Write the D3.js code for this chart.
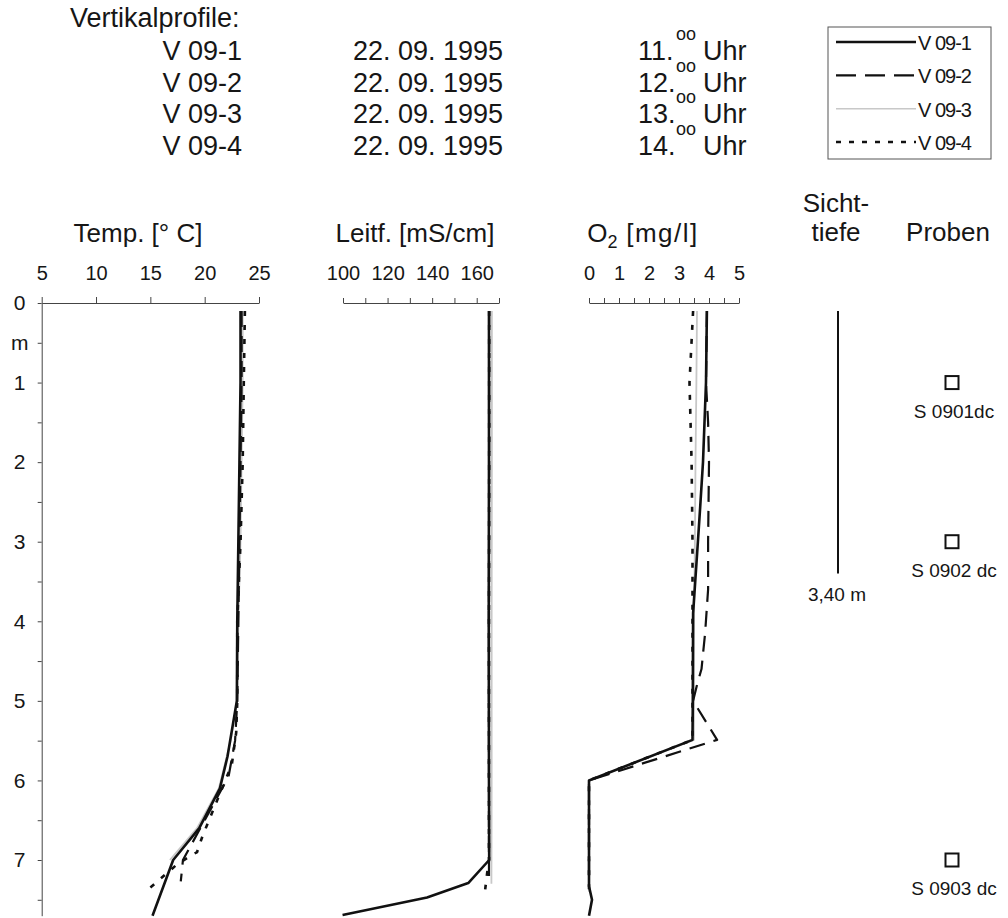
<!DOCTYPE html>
<html>
<head>
<meta charset="utf-8">
<script src="https://cdn.jsdelivr.net/npm/d3@7/dist/d3.min.js"></script>
<style>
body { margin: 0; background: #fff; }
svg { display: block; font-family: "Liberation Sans", Arial, sans-serif; }
text { fill: #161616; }
</style>
</head>
<body>
<svg width="1008" height="918"></svg>
<script>
// Profile names and sampling times
var profiles = ['V 09-1', 'V 09-2', 'V 09-3', 'V 09-4'];
var dates = ['22. 09. 1995', '22. 09. 1995', '22. 09. 1995', '22. 09. 1995'];
var hours = ['11.', '12.', '13.', '14.'];

// Temperature [°C]: depth (m) and value per profile
var tempDepth = [
    [0.1, 1, 2, 3, 4, 5, 5.7, 6.1, 6.6, 7.0, 7.7],
    [0.1, 1, 2, 3, 4, 5, 5.5, 5.8, 5.95, 6.5, 7.0, 7.27],
    [0.1, 1, 2, 3, 4, 5, 5.5, 6.1, 6.6, 7.0],
    [0.1, 1, 2, 3, 4, 5, 5.4, 5.8, 6.1, 6.7, 6.9, 7.05, 7.37]
];
var tempValue = [
    [23.3, 23.3, 23.2, 23.1, 23.0, 22.96, 22.1, 21.4, 19.5, 17.1, 15.2],
    [23.4, 23.4, 23.3, 23.2, 23.1, 23.0, 22.8, 22.4, 22.2, 20.0, 18.0, 17.8],
    [23.5, 23.5, 23.4, 23.3, 23.1, 23.0, 22.4, 21.3, 19.3, 16.8],
    [23.7, 23.6, 23.5, 23.3, 23.0, 23.0, 22.9, 22.5, 21.6, 19.8, 19.3, 17.5, 14.8]
];

// Conductivity [mS/cm]
var leitDepth = [
    [0.1, 2, 4, 6, 7.0, 7.29, 7.47, 7.69],
    [0.1, 2, 4, 6, 7.2],
    [0.1, 2, 4, 6, 7.3],
    [0.1, 2, 4, 6, 7.0, 7.16, 7.37]
];
var leitValue = [
    [165.5, 165.5, 165.4, 165.5, 165.6, 156.2, 137.7, 99.8],
    [165.6, 165.6, 165.5, 165.5, 165.5],
    [166.8, 166.8, 166.7, 166.7, 166.6],
    [165.6, 165.6, 165.5, 165.5, 165.5, 164.7, 163.8]
];

// Oxygen [mg/l]
var o2Depth = [
    [0.1, 1.0, 1.3, 2.0, 2.6, 3.0, 3.9, 5.0, 5.49, 6.0, 6.5, 7.0, 7.33, 7.5, 7.7],
    [0.1, 1.0, 1.5, 2.0, 3.0, 3.6, 4.15, 4.6, 4.8, 5.0, 5.49, 6.0, 7.3],
    [0.1, 1, 2, 3, 4, 5, 5.49, 6.0, 7.4],
    [0.1, 1, 2, 3, 4, 5, 5.49, 6.0, 7.4]
];
var o2Value = [
    [3.93, 3.9, 3.87, 3.8, 3.7, 3.63, 3.47, 3.46, 3.45, 0.0, 0.0, 0.0, 0.0, 0.1, 0.0],
    [3.93, 3.9, 3.97, 4.0, 3.97, 3.97, 3.87, 3.75, 3.6, 3.47, 4.27, 0.0, 0.0],
    [3.6, 3.58, 3.55, 3.53, 3.5, 3.5, 3.5, 0.0, 0.0],
    [3.47, 3.35, 3.42, 3.45, 3.45, 3.45, 3.45, 0.0, 0.0]
];

// Secchi depth and sample depths
var secchiDepth = 3.40;
var secchiLabel = '3,40 m';
var sampleDepth = [1.0, 3.0, 7.0];
var sampleLabel = ['S 0901dc', 'S 0902 dc', 'S 0903 dc'];

// Axis ticks
var depthTicks = [0, 0.5, 1, 1.5, 2, 2.5, 3, 3.5, 4, 4.5, 5, 5.5, 6, 6.5, 7, 7.5];
var tempTicks = [5, 10, 15, 20, 25];
var leitTicks = [100, 110, 120, 130, 140, 150, 160, 170];
var leitLabels = [100, 120, 140, 160];
var o2Ticks = [0, 0.5, 1, 1.5, 2, 2.5, 3, 3.5, 4, 4.5, 5];

// line look for each profile
var styles = [
    {stroke: '#111', width: 2.6, dash: null},
    {stroke: '#111', width: 2.2, dash: '16,9'},
    {stroke: '#c8c8c8', width: 1.8, dash: null},
    {stroke: '#111', width: 2.6, dash: '5,9'}
];
var drawOrder = [2, 0, 1, 3];

var svg = d3.select('svg');
var font = '"Liberation Sans", Arial, sans-serif';

// Scales
var y = d3.scaleLinear().domain([0, 7.7]).range([303, 915.7]);
var xTemp = d3.scaleLinear().domain([5, 25]).range([41.7, 259]);
var xLeit = d3.scaleLinear().domain([100, 170]).range([343, 499]);
var xO2 = d3.scaleLinear().domain([0, 5]).range([589, 739]);

function styleAxis(g) {
    g.attr('font-family', font).attr('font-size', 20);
    g.select('.domain').attr('stroke', '#444').attr('stroke-width', 1);
    g.selectAll('.tick line').attr('stroke', '#444').attr('stroke-width', 1);
    g.selectAll('.tick text').attr('fill', '#161616');
}

// Top axes
svg.append('g')
    .attr('transform', 'translate(0,303)')
    .call(d3.axisTop(xTemp).tickValues(tempTicks).tickSize(6).tickSizeOuter(0).tickPadding(17))
    .call(styleAxis);

svg.append('g')
    .attr('transform', 'translate(0,303)')
    .call(d3.axisTop(xLeit).tickValues(leitTicks).tickSize(5).tickSizeOuter(0).tickPadding(18)
        .tickFormat(function(d) { return leitLabels.indexOf(d) >= 0 ? d : ''; }))
    .call(styleAxis);

svg.append('g')
    .attr('transform', 'translate(0,303)')
    .call(d3.axisTop(xO2).tickValues(o2Ticks).tickSize(5).tickSizeOuter(0).tickPadding(18)
        .tickFormat(function(d) { return d % 1 === 0 ? d : ''; }))
    .call(styleAxis);

// Depth axis
var yAxisG = svg.append('g')
    .attr('transform', 'translate(41.7,0)')
    .call(d3.axisLeft(y).tickValues(depthTicks).tickSize(4).tickSizeOuter(0)
        .tickFormat(function(d) { return d === 0.5 ? 'm' : (d % 1 === 0 ? d : ''); }))
    .call(styleAxis);
yAxisG.selectAll('.tick text').attr('text-anchor', 'middle').attr('x', -22).attr('font-size', 21);

// Panel titles
function title(x, yy, txt) {
    return svg.append('text').attr('x', x).attr('y', yy)
        .attr('text-anchor', 'middle')
        .attr('font-size', 26).text(txt);
}
title(138, 242, 'Temp. [° C]');
title(415, 242, 'Leitf. [mS/cm]');
var o2Title = svg.append('text').attr('x', 643).attr('y', 242)
    .attr('text-anchor', 'middle').attr('font-size', 26);
o2Title.append('tspan').text('O');
o2Title.append('tspan').attr('font-size', 18).attr('dy', 6).text('2');
o2Title.append('tspan').attr('dy', -6).attr('letter-spacing', 1.5).text(' [mg/l]');
title(836, 212, 'Sicht-');
title(836, 241, 'tiefe');
title(948, 241, 'Proben');

// Profile lines
function drawProfiles(depths, values, x) {
    var line = d3.line()
        .x(function(p) { return x(p[1]); })
        .y(function(p) { return y(p[0]); });
    drawOrder.forEach(function(i) {
        var pts = d3.zip(depths[i], values[i]);
        svg.append('path')
            .datum(pts)
            .attr('d', line)
            .attr('fill', 'none')
            .attr('stroke', styles[i].stroke)
            .attr('stroke-width', styles[i].width)
            .attr('stroke-dasharray', styles[i].dash)
            .attr('stroke-linejoin', 'round');
    });
}
drawProfiles(tempDepth, tempValue, xTemp);
drawProfiles(leitDepth, leitValue, xLeit);
drawProfiles(o2Depth, o2Value, xO2);

// Secchi depth
svg.append('line')
    .attr('x1', 838).attr('x2', 838)
    .attr('y1', y(0.1)).attr('y2', y(secchiDepth))
    .attr('stroke', '#111').attr('stroke-width', 2);
svg.append('text').attr('x', 837).attr('y', y(secchiDepth) + 27)
    .attr('text-anchor', 'middle').attr('font-size', 19).text(secchiLabel);

// Samples
var samples = svg.selectAll('.sample')
    .data(sampleDepth)
    .enter().append('g')
    .attr('class', 'sample')
    .attr('transform', function(d) { return 'translate(' + [952, y(d)] + ')'; });
samples.append('rect')
    .attr('x', -6.5).attr('y', -6.5).attr('width', 13).attr('height', 13)
    .attr('fill', 'none').attr('stroke', '#111').attr('stroke-width', 2);
samples.append('text')
    .attr('x', 2).attr('y', 35)
    .attr('text-anchor', 'middle').attr('font-size', 19)
    .text(function(d, i) { return sampleLabel[i]; });

// Header block
svg.append('text').attr('x', 70).attr('y', 27).attr('font-size', 27).text('Vertikalprofile:');
var rowY = d3.scaleLinear().domain([0, 3]).range([60, 155]);
profiles.forEach(function(p, i) {
    var yy = rowY(i);
    svg.append('text').attr('x', 242).attr('y', yy).attr('text-anchor', 'end')
        .attr('font-size', 27).text(p);
    svg.append('text').attr('x', 353).attr('y', yy).attr('font-size', 27).text(dates[i]);
    svg.append('text').attr('x', 638).attr('y', yy).attr('font-size', 27).text(hours[i]);
    svg.append('text').attr('x', 676).attr('y', yy - 20).attr('font-size', 18).text('oo');
    svg.append('text').attr('x', 703).attr('y', yy).attr('font-size', 27).text('Uhr');
});

// Legend
var legend = svg.append('g');
legend.append('rect')
    .attr('x', 828).attr('y', 27).attr('width', 163).attr('height', 132)
    .attr('fill', 'none').attr('stroke', '#555').attr('stroke-width', 1);
var legY = d3.scaleLinear().domain([0, 3]).range([42, 142]);
profiles.forEach(function(p, i) {
    legend.append('line')
        .attr('x1', 836).attr('x2', 916)
        .attr('y1', legY(i)).attr('y2', legY(i))
        .attr('stroke', styles[i].stroke)
        .attr('stroke-width', i === 2 ? 1.5 : 2.4)
        .attr('stroke-dasharray', i === 1 ? '20,9' : (i === 3 ? '5,8' : null));
    legend.append('text')
        .attr('x', 918).attr('y', legY(i) + 8)
        .attr('font-size', 20).attr('letter-spacing', -1).text(p);
});
</script>
</body>
</html>
